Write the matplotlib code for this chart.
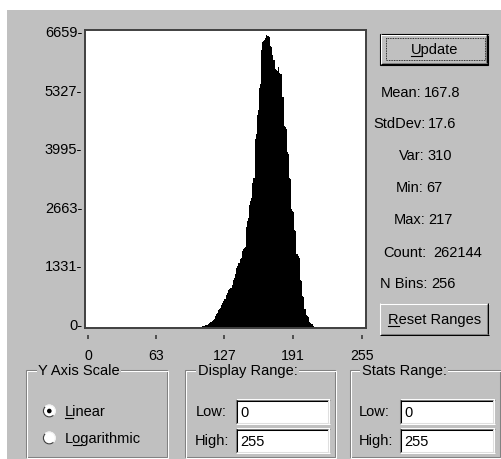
import matplotlib
matplotlib.use('Agg')
import matplotlib.pyplot as plt
from matplotlib.patches import Rectangle, Circle, Wedge
from matplotlib.font_manager import FontProperties
import matplotlib.transforms as mtransforms
import numpy as np

# ---------------- data ----------------
bin_start = 67
counts = [
    1, 0, 1, 1, 0, 1, 2, 1, 2, 2, 3, 2, 3, 4, 3, 4, 5, 4, 5, 6, 6, 7, 8, 8, 9, 10, 10, 11, 12, 13, 14, 15, 17,  # 67-99
    18, 20, 22, 25,                 # 100-103
    30, 34, 38, 44, 52,             # 104-108
    62, 70, 78,                     # 109-111
    100, 115, 130,                  # 112-114
    170, 190, 205,                  # 115-117
    280, 310, 335,                  # 118-120
    400, 430, 450,                  # 121-123
    520, 560, 610, 650,             # 124-127
    740, 790,                       # 128-129
    860, 880, 900, 920,             # 130-133
    980, 1080, 1130, 1231,          # 134-137
    1360, 1414, 1470, 1560, 1600,   # 138-142
    1760, 1800, 1824, 1840,         # 143-146
    2300, 2440, 2500,               # 147-149
    2800, 2896, 2950,               # 150-152
    3300, 3400,                     # 153-154
    4300, 4400, 4850, 4950,         # 155-158
    5450, 5550, 6316,               # 159-161
    6500, 6521, 6540,               # 162-164
    6600, 6659, 6640, 6620,         # 165-168
    6420, 6380, 6200, 6100, 6080,   # 169-173
    5880, 5860, 5840, 5935,         # 174-177
    5790, 5784, 5780, 5250,         # 178-181
    4600, 4560, 4520,               # 182-184
    3990, 3950, 3420, 3380,         # 185-188
    2700, 2668, 2640, 2230, 2200,   # 189-193
    1680, 1642, 1600, 1090, 1060,   # 194-198
    720, 700, 440, 430,             # 199-202
    290, 274, 260, 130, 114, 100,   # 203-208
    46, 30, 20, 14, 9, 6, 4, 2, 1,  # 209-217
]
y_tick_values = [0, 1331, 2663, 3995, 5327, 6659]
y_tick_labels = ['0-', '1331-', '2663-', '3995-', '5327-', '6659-']
x_tick_values = [0, 63, 127, 191, 255]
x_tick_labels = ['0', '63', '127', '191', '255']
stat_names = ['Mean:', 'StdDev:', 'Var:', 'Min:', 'Max:', 'Count:', 'N Bins:']
stat_values = ['167.8', '17.6', '310', '67', '217', '262144', '256']

# ---------------- layout ----------------
W, H, DPI = 502, 459, 100
GRAY = '#c0c0c0'
DARK = '#808080'
FS = 10.5
plt.rcParams['font.family'] = ['Liberation Sans', 'DejaVu Sans']
plt.rcParams['font.size'] = FS

fig = plt.figure(figsize=(W / DPI, H / DPI), dpi=DPI, facecolor='white')
ov = fig.add_axes([0, 0, 1, 1], zorder=0)
ov.set_xlim(0, W)
ov.set_ylim(H, 0)
ov.axis('off')
ov.add_patch(Rectangle((7, 10), W - 7, H - 10, facecolor=GRAY, edgecolor='none'))

# histogram axes (pixel box 85..366 x 30..328)
L, R, T, B = 85, 366, 30, 328
ax = fig.add_axes([L / W, 1 - B / H, (R - L) / W, (B - T) / H], zorder=2)
ax.set_facecolor('white')
edges = np.arange(bin_start, bin_start + len(counts) + 1)
ax.stairs(counts, edges, fill=True, color='black', linewidth=0)
ppu = 1.0745
ax.set_xlim(-(88 - L) / ppu, (R - 88) / ppu)
cpp = 6659 / (B - 35)
ax.set_ylim(0, (B - T) * cpp)
for s in ax.spines.values():
    s.set_color('#404040')
    s.set_linewidth(1.4)
ax.set_yticks(y_tick_values, y_tick_labels)
ax.set_xticks([])
ax.tick_params(axis='y', length=0, pad=2.0, labelsize=FS, labelcolor='black')
off = mtransforms.ScaledTranslation(0, 3.5 / DPI, fig.dpi_scale_trans)
for lab in ax.get_yticklabels():
    lab.set_transform(lab.get_transform() + off)

sec = ax.secondary_xaxis(-7 / (B - T))
sec.spines['bottom'].set_visible(False)
sec.set_xticks(x_tick_values, x_tick_labels)
sec.tick_params(axis='x', direction='out', length=2.9, width=1.1, color='#303030',
                pad=7.5, labelsize=10.2)

renderer = fig.canvas.get_renderer()
prop = FontProperties(family=['Liberation Sans', 'DejaVu Sans'], size=FS)


def tw(s):
    w, h, d = renderer.get_text_width_height_descent(s, prop, ismath=False)
    return w


def text(x, yc, s, ha='left', under=None, bg=None):
    yb = yc + 5.2
    kw = {}
    if bg is not None:
        kw['bbox'] = dict(facecolor=bg, edgecolor='none', pad=1.0)
    ov.text(x, yb, s, ha=ha, va='baseline', fontproperties=prop, color='black', **kw)
    if under is not None:
        total = tw(s)
        x0 = x if ha == 'left' else (x - total / 2 if ha == 'center' else x - total)
        a = x0 + (tw(s[:under]) if under > 0 else 0)
        b = x0 + tw(s[:under + 1])
        ov.plot([a, b], [yb + 1.8, yb + 1.8], color='black', lw=0.8)


def hline(x0, x1, y, c, lw=0.75):
    ov.plot([x0, x1], [y, y], color=c, lw=lw, solid_capstyle='butt')


def vline(x, y0, y1, c, lw=0.75):
    ov.plot([x, x], [y0, y1], color=c, lw=lw, solid_capstyle='butt')


def button(x0, y0, x1, y1, default=False):
    ov.add_patch(Rectangle((x0, y0), x1 - x0, y1 - y0, facecolor=GRAY, edgecolor='none'))
    if default:
        ov.add_patch(Rectangle((x0 + 0.5, y0 + 0.5), x1 - x0 - 1, y1 - y0 - 1,
                               facecolor='none', edgecolor='black', lw=0.8))
        x0 += 1; y0 += 1; x1 -= 1; y1 -= 1
    hline(x0, x1, y0 + 0.5, 'white')
    vline(x0 + 0.5, y0, y1, 'white')
    hline(x0, x1, y1 - 0.5, 'black')
    vline(x1 - 0.5, y0, y1, 'black')
    hline(x0 + 1, x1 - 1, y1 - 1.5, DARK)
    vline(x1 - 1.5, y0 + 1, y1 - 1, DARK)


def editbox(x0, y0, x1, y1):
    ov.add_patch(Rectangle((x0, y0), x1 - x0, y1 - y0, facecolor='white', edgecolor='none'))
    hline(x0, x1, y0 + 0.5, DARK)
    vline(x0 + 0.5, y0, y1, DARK)
    hline(x0 + 1, x1 - 1, y0 + 1.5, 'black')
    vline(x0 + 1.5, y0 + 1, y1 - 1, 'black')
    hline(x0, x1, y1 - 0.5, 'white')
    vline(x1 - 0.5, y0, y1, 'white')
    hline(x0 + 1, x1 - 1, y1 - 1.5, '#dfdfdf')
    vline(x1 - 1.5, y0 + 1, y1 - 1, '#dfdfdf')


def groupbox(x0, y0, x1, y1, title, tx):
    ov.add_patch(Rectangle((x0, y0), x1 - x0, y1 - y0, facecolor='none', edgecolor=DARK, lw=0.75))
    ov.add_patch(Rectangle((x0 + 1, y0 + 1), x1 - x0, y1 - y0, facecolor='none', edgecolor='white', lw=0.75))
    text(tx, y0, title, bg=GRAY)


def radio(cx, cy, selected):
    ov.add_patch(Circle((cx, cy), 6.5, facecolor='white', edgecolor='none'))
    ov.add_patch(Wedge((cx, cy), 6.5, 45, 225, width=1.2, facecolor='#404040', edgecolor='none'))
    ov.add_patch(Wedge((cx, cy), 6.5, 225, 45, width=1.0, facecolor='#f0f0f0', edgecolor='none'))
    if selected:
        ov.add_patch(Circle((cx, cy), 2.3, facecolor='black', edgecolor='none'))


# buttons
button(380, 33, 489, 65, default=True)
ov.add_patch(Rectangle((386, 38), 99, 22, facecolor='none', edgecolor='black', lw=0.6, ls=(0, (1, 1))))
text(435, 49, 'Update', ha='center', under=0)
button(380, 303, 489, 335)
text(435, 319, 'Reset Ranges', ha='center', under=0)

# statistics: each line centred where the reference line sits
stat_cx = [420.7, 414.5, 425.3, 419.3, 423.3, 432.5, 417.8]
stat_gap = [3.0, 2.6, 3.3, 3.3, 2.6, 6.7, 4.3]
stat_y = [91.7, 123.3, 155, 186.7, 219.3, 251.7, 283.3]
for n, v, cx, g, yy in zip(stat_names, stat_values, stat_cx, stat_gap, stat_y):
    total = tw(n) + g + tw(v)
    x0 = cx - total / 2
    text(x0, yy, n, ha='left')
    text(x0 + tw(n) + g, yy, v, ha='left')

# group boxes
groupbox(26, 370, 166.7, 457, 'Y Axis Scale', 38.3)
radio(49.3, 411, True)
text(65, 411, 'Linear', under=0)
radio(49.3, 438, False)
text(65, 438, 'Logarithmic', under=1)

groupbox(185, 370, 335, 457, 'Display Range:', 197.7)
text(196, 411, 'Low:')
editbox(236, 399, 330, 424)
text(240.7, 411.5, '0')
text(195, 440, 'High:')
editbox(236, 428, 330, 453)
text(240.7, 440.5, '255')

groupbox(350, 370, 500, 457, 'Stats Range:', 361.7)
text(359, 411, 'Low:')
editbox(400, 399, 495, 424)
text(404.5, 411.5, '0')
text(359, 440, 'High:')
editbox(400, 428, 495, 453)
text(404.5, 440.5, '255')

fig.savefig('out.png', dpi=DPI, facecolor='white')
